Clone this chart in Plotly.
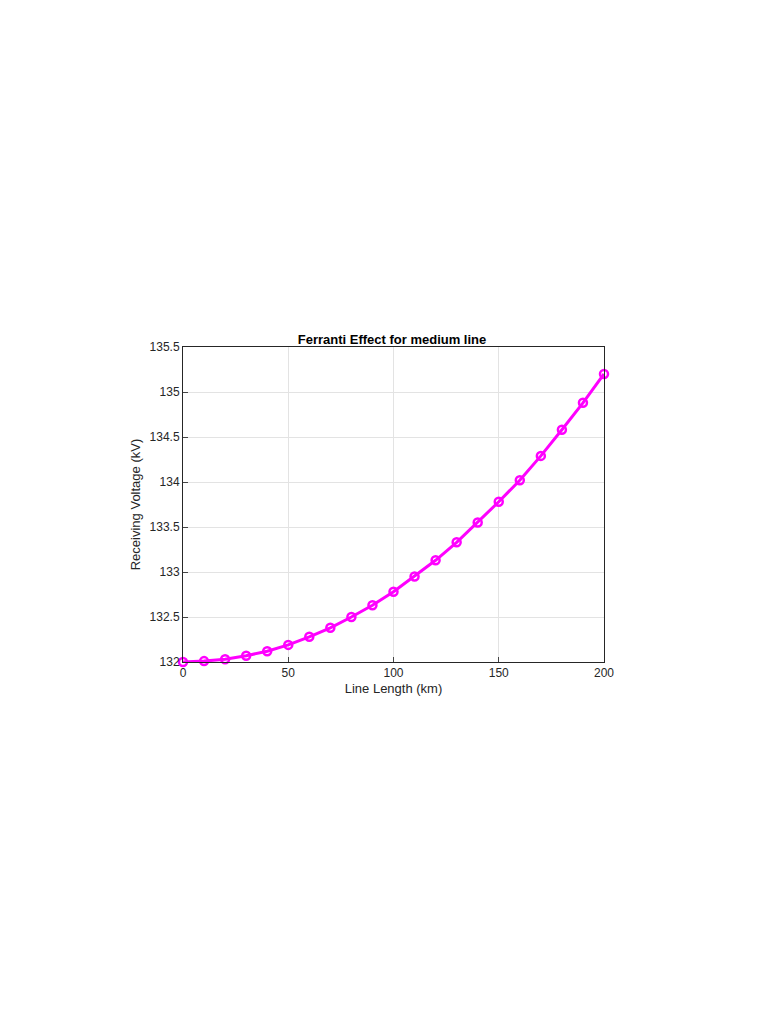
import plotly.graph_objects as go

# line length (km) and receiving end voltage (kV)
length_km = [0, 10, 20, 30, 40, 50, 60, 70, 80, 90, 100, 110, 120, 130, 140, 150, 160, 170, 180, 190, 200]
vr_kv = [132.0, 132.01, 132.03, 132.07, 132.12, 132.19, 132.28, 132.38, 132.5, 132.63, 132.78, 132.95,
         133.13, 133.33, 133.55, 133.78, 134.02, 134.29, 134.58, 134.88, 135.2]

fig = go.Figure()
fig.add_trace(go.Scatter(x=length_km, y=vr_kv, mode="lines+markers", cliponaxis=False,
                         line=dict(color="#ff00ff", width=3),
                         marker=dict(symbol="circle-open", size=8, color="#ff00ff", line=dict(width=2.5))))

axis = dict(showline=True, linecolor="#262626", linewidth=1, mirror=True, ticks="inside", ticklen=5,
            showgrid=True, gridcolor="#e3e3e3", zeroline=False, tickfont=dict(size=12, color="#262626",
            family="Liberation Sans"))
fig.update_xaxes(range=[0, 200], dtick=50, title=dict(text="Line Length (km)", standoff=4,
                 font=dict(size=13, color="#262626", family="Liberation Sans")), **axis)
fig.update_yaxes(range=[132, 135.5], dtick=0.5, title=dict(text="Receiving Voltage (kV)", standoff=6,
                 font=dict(size=13, color="#262626", family="Liberation Sans")), **axis)
fig.update_layout(width=768, height=1024, plot_bgcolor="white", paper_bgcolor="white", showlegend=False,
                  margin=dict(l=175, r=172, t=339, b=370),
                  title=dict(text="<b>Ferranti Effect for medium line</b>", x=0.5, xanchor="center",
                             y=1 - 331 / 1024, yanchor="middle",
                             font=dict(size=13, color="black", family="Liberation Sans")))
fig.write_html("out.html")
